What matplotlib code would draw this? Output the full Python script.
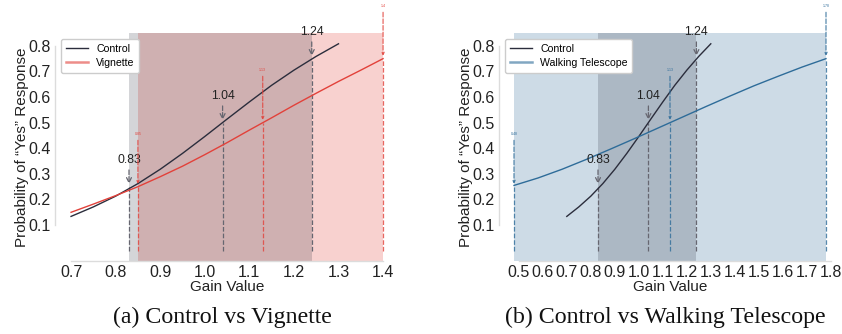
import matplotlib
matplotlib.use('Agg')
import matplotlib.pyplot as plt

plt.rcParams['font.family'] = ['Liberation Sans', 'DejaVu Sans']

# ---- data ----
ctrl_x = [0.70, 0.75, 0.80, 0.85, 0.90, 0.95, 1.00, 1.05, 1.10, 1.15, 1.20, 1.25, 1.30]
ctrl_y = [0.134, 0.171, 0.213, 0.262, 0.318, 0.380, 0.446, 0.514, 0.581, 0.646, 0.705, 0.759, 0.808]

vig_x = [0.70, 0.75, 0.80, 0.85, 0.90, 0.95, 1.00, 1.05, 1.10, 1.15, 1.20, 1.25, 1.30, 1.35, 1.40]
vig_y = [0.150, 0.182, 0.215, 0.250, 0.289, 0.330, 0.375, 0.422, 0.471, 0.519, 0.568, 0.615, 0.661, 0.705, 0.750]

wt_x = [0.48, 0.58, 0.68, 0.78, 0.88, 0.98, 1.08, 1.18, 1.28, 1.38, 1.48, 1.58, 1.68, 1.78]
wt_y = [0.255, 0.284, 0.318, 0.356, 0.396, 0.437, 0.479, 0.521, 0.563, 0.604, 0.644, 0.681, 0.717, 0.750]

thr_p = [0.25, 0.50, 0.75]
ctrl_thr = [0.83, 1.04, 1.24]
vig_thr = [0.85, 1.13, 1.4]
wt_thr = [0.48, 1.13, 1.78]

left_ticks = [0.7, 0.8, 0.9, 1.0, 1.1, 1.2, 1.3, 1.4]
right_ticks = [0.5, 0.6, 0.7, 0.8, 0.9, 1.0, 1.1, 1.2, 1.3, 1.4, 1.5, 1.6, 1.7, 1.8]
y_ticks = [0.1, 0.2, 0.3, 0.4, 0.5, 0.6, 0.7, 0.8]

C_CTRL = '#2b2d3c'
C_VIG = '#e2413a'
C_WT = '#2e6c99'


def panel(ax, ox, oy, othr, ocol, oname, xlim, xticks):
    # shaded threshold ranges
    ax.axvspan(othr[0], othr[2], color=ocol, alpha=0.24, lw=0)
    ax.axvspan(ctrl_thr[0], ctrl_thr[2], color=C_CTRL, alpha=0.2, lw=0)

    # dashed drop lines
    ax.vlines(ctrl_thr, 0, thr_p, colors='#666670', linestyles='--', lw=0.9)
    ax.vlines(othr, 0, thr_p, colors=ocol, linestyles='--', lw=0.9, alpha=0.8)

    ax.plot(ctrl_x, ctrl_y, color=C_CTRL, lw=1.0, label='Control')
    ax.plot(ox, oy, color=ocol, lw=1.0, label=oname)

    for t, p in zip(ctrl_thr, thr_p):
        ax.annotate(f'{t:g}', xy=(t, p), xytext=(t, p + 0.105), ha='center', va='center',
                    fontsize=8.8, color='#222222', annotation_clip=False,
                    arrowprops=dict(arrowstyle='->', color='#666670', ls='--', lw=0.9, shrinkA=1, shrinkB=2))
    for t, p in zip(othr, thr_p):
        ax.annotate(f'{t:g}', xy=(t, p), xytext=(t, p + 0.205), ha='center', va='center',
                    fontsize=2.5, color=ocol, annotation_clip=False,
                    arrowprops=dict(arrowstyle='->', color=ocol, ls='--', lw=0.9, alpha=0.8,
                                    shrinkA=1, shrinkB=2, mutation_scale=4))

    ax.set_xlim(*xlim)
    ax.set_ylim(-0.039, 0.849)
    ax.set_xticks(xticks)
    ax.set_yticks(y_ticks)
    ax.set_xticklabels([f'{v:.1f}' for v in xticks])
    ax.tick_params(length=0, labelsize=11.5, pad=3, colors='#222222')
    ax.set_xlabel('Gain Value', fontsize=11, labelpad=0, color='#222222')
    ax.set_ylabel('Probability of \u201cYes\u201d Response', fontsize=11, labelpad=-0.5, color='#222222')

    for s in ['top', 'right']:
        ax.spines[s].set_visible(False)
    ax.spines['left'].set_bounds(y_ticks[0], y_ticks[-1])
    ax.spines['bottom'].set_bounds(xticks[0], xticks[-1])
    for s in ['left', 'bottom']:
        ax.spines[s].set_color('#dcdcdc')
        ax.spines[s].set_linewidth(1.0)

    leg = ax.legend(loc='upper left', fontsize=7.6, frameon=True, borderaxespad=0.55,
                    handlelength=2.1, handletextpad=0.8, borderpad=0.45, labelspacing=0.4,
                    fancybox=True)
    leg.get_frame().set_edgecolor('#cccccc')
    leg.get_frame().set_facecolor('white')
    leg.get_frame().set_alpha(1)
    lines = leg.get_lines()
    lines[1].set_linewidth(1.8)
    lines[1].set_alpha(0.6)


fig = plt.figure(figsize=(8.42, 3.34), dpi=100)
ax1 = fig.add_axes([55 / 842, 73.3 / 334, 345 / 842, 227.4 / 334])
ax2 = fig.add_axes([499 / 842, 73.3 / 334, 342 / 842, 227.4 / 334])

panel(ax1, vig_x, vig_y, vig_thr, C_VIG, 'Vignette', (0.664, 1.438), left_ticks)
panel(ax2, wt_x, wt_y, wt_thr, C_WT, 'Walking Telescope', (0.4175, 1.8425), right_ticks)

fig.text(222 / 842, 1 - 317 / 334, '(a) Control vs Vignette', family='Liberation Serif',
         fontsize=17.2, ha='center', va='center', color='#111111')
fig.text(665 / 842, 1 - 317 / 334, '(b) Control vs Walking Telescope', family='Liberation Serif',
         fontsize=17.2, ha='center', va='center', color='#111111')

fig.savefig('out.png', dpi=100)
